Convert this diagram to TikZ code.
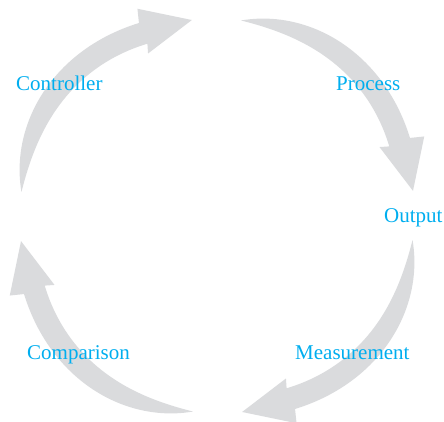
\documentclass[tikz,border=0pt]{standalone}
\usepackage{fontspec}
\setmainfont{Liberation Serif}
\definecolor{arrowgray}{RGB}{218,219,221}
\definecolor{labelcyan}{RGB}{0,174,239}
\begin{document}
\begin{tikzpicture}[x=1pt,y=1pt,
  lbl/.style={text=labelcyan,font=\fontsize{21}{25}\selectfont,anchor=base west,inner sep=0pt},
  bigarrow/.style={fill=arrowgray,draw=none}]
\useasboundingbox (-217,-206) rectangle (227,216);
\foreach \k in {0,1,2,3}{
  \begin{scope}[rotate=-90*\k]
    \fill[bigarrow]
      plot[domain=0:1,samples=50,variable=\s]
        ({173-61*\s}:{197+6*sin(180*\s)+11.2*(1-(1-\s)*(1-\s)*(1-\s)*(1-\s))})
      -- (111:222) -- (97.3:197.6) -- (113:176.5)
      -- plot[domain=1:0,samples=50,variable=\s]
        ({173-61*\s}:{197+6*sin(180*\s)-11.2*(1-(1-\s)*(1-\s)*(1-\s)*(1-\s))})
      -- cycle;
  \end{scope}
}
\node[lbl] (controller) at (-201,125) {Controller};
\node[lbl] (process) at (119,125) {Process};
\node[lbl] (output) at (167,-7) {Output};
\node[lbl] (comparison) at (-190,-143) {Comparison};
\node[lbl] (measurement) at (78,-143) {Measurement};
\end{tikzpicture}
\end{document}
